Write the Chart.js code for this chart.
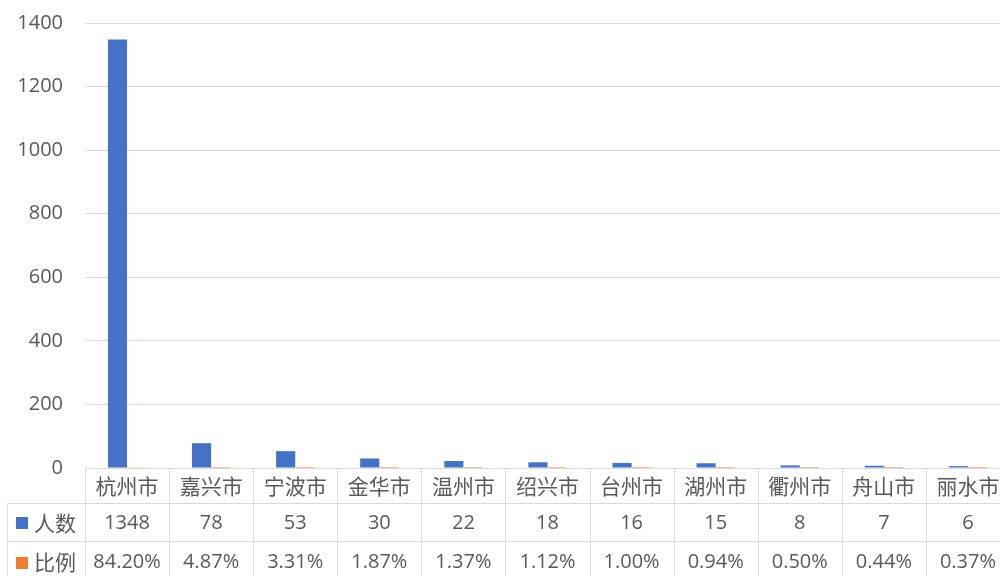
<!DOCTYPE html>
<html>
<head>
<meta charset="utf-8">
<script src="https://cdn.jsdelivr.net/npm/chart.js@4"></script>
<style>
  html, body { margin: 0; padding: 0; background: #fff; overflow: hidden; }
  #wrap { width: 1012px; height: 576px; position: relative; }
</style>
</head>
<body>
<div id="wrap"><canvas id="c" width="1012" height="576"></canvas></div>
<script>
const categories = ['杭州市', '嘉兴市', '宁波市', '金华市', '温州市', '绍兴市', '台州市', '湖州市', '衢州市', '舟山市', '丽水市'];
const seriesNames = ['人数', '比例'];
const counts = [1348, 78, 53, 30, 22, 18, 16, 15, 8, 7, 6];
const ratioLabels = ['84.20%', '4.87%', '3.31%', '1.87%', '1.37%', '1.12%', '1.00%', '0.94%', '0.50%', '0.44%', '0.37%'];
const ratios = ratioLabels.map(s => parseFloat(s) / 100);
const yTicks = [0, 200, 400, 600, 800, 1000, 1200, 1400];
const colors = ['#4472C4', '#ED7D31'];

const textColor = '#595959';
const lineColor = '#d9d9d9';
const numFont = '20px "Open Sans", "Noto Sans CJK SC", sans-serif';
const cjkFont = '21px "Noto Sans CJK SC", sans-serif';

const tablePlugin = {
  id: 'dataTable',
  afterDraw(chart) {
    const ctx = chart.ctx;
    const area = chart.chartArea;
    const xs = chart.scales.x;
    const n = categories.length;
    const cw = (area.right - area.left) / n;
    const rows = [area.bottom, area.bottom + 35, area.bottom + 73, area.bottom + 112];
    ctx.save();
    ctx.strokeStyle = lineColor;
    ctx.lineWidth = 1;
    ctx.beginPath();
    ctx.moveTo(area.left, rows[0] + 0.5); ctx.lineTo(area.right, rows[0] + 0.5);
    for (let r = 1; r < rows.length; r++) {
      ctx.moveTo(7, rows[r] + 0.5); ctx.lineTo(area.right, rows[r] + 0.5);
    }
    for (let i = 0; i <= n; i++) {
      const x = Math.round(area.left + i * cw) + 0.5;
      ctx.moveTo(x, rows[0]); ctx.lineTo(x, rows[3]);
    }
    ctx.moveTo(7.5, rows[1]); ctx.lineTo(7.5, rows[3]);
    ctx.stroke();

    ctx.fillStyle = textColor;
    ctx.textAlign = 'center';
    ctx.textBaseline = 'middle';
    const rowMid = [ (rows[0] + rows[1]) / 2 + 1, (rows[1] + rows[2]) / 2 + 1, (rows[2] + rows[3]) / 2 + 2 ];
    for (let i = 0; i < n; i++) {
      const x = xs.getPixelForValue(i);
      ctx.font = cjkFont;
      ctx.fillText(categories[i], x, rowMid[0]);
      ctx.font = numFont;
      ctx.fillText(String(counts[i]), x, rowMid[1]);
      ctx.fillText(ratioLabels[i], x, rowMid[2]);
    }
    for (let s = 0; s < seriesNames.length; s++) {
      const cy = rowMid[s + 1];
      ctx.fillStyle = colors[s];
      ctx.fillRect(16, Math.round(cy - 6), 12, 12);
      ctx.fillStyle = textColor;
      ctx.textAlign = 'left';
      ctx.font = cjkFont;
      ctx.fillText(seriesNames[s], 34, cy);
    }
    ctx.restore();
  }
};

new Chart(document.getElementById('c'), {
  type: 'bar',
  data: {
    labels: categories,
    datasets: [
      { label: seriesNames[0], data: counts, backgroundColor: colors[0], borderWidth: 0 },
      { label: seriesNames[1], data: ratios, backgroundColor: colors[1], borderWidth: 0 }
    ]
  },
  options: {
    responsive: false,
    animation: false,
    devicePixelRatio: 1,
    layout: { padding: { top: 23, right: 2, bottom: 108, left: 0 } },
    plugins: { legend: { display: false }, tooltip: { enabled: false } },
    datasets: { bar: { categoryPercentage: 0.455, barPercentage: 1.0 } },
    scales: {
      x: {
        display: true,
        grid: { display: false, drawTicks: false },
        border: { display: false },
        ticks: { display: false },
        afterFit(scale) { scale.height = 0; scale.paddingLeft = 0; scale.paddingRight = 0; }
      },
      y: {
        min: 0, max: 1400,
        afterBuildTicks(scale) { scale.ticks = yTicks.map(v => ({ value: v })); },
        afterFit(scale) { scale.width = 85; scale.paddingTop = 0; scale.paddingBottom = 0; },
        grid: { color: lineColor, lineWidth: 1, drawTicks: false },
        border: { display: false },
        ticks: {
          color: textColor,
          font: { family: '"Open Sans", sans-serif', size: 20 },
          padding: 22,
          callback: (v) => String(v)
        }
      }
    }
  },
  plugins: [tablePlugin]
});
</script>
</body>
</html>
